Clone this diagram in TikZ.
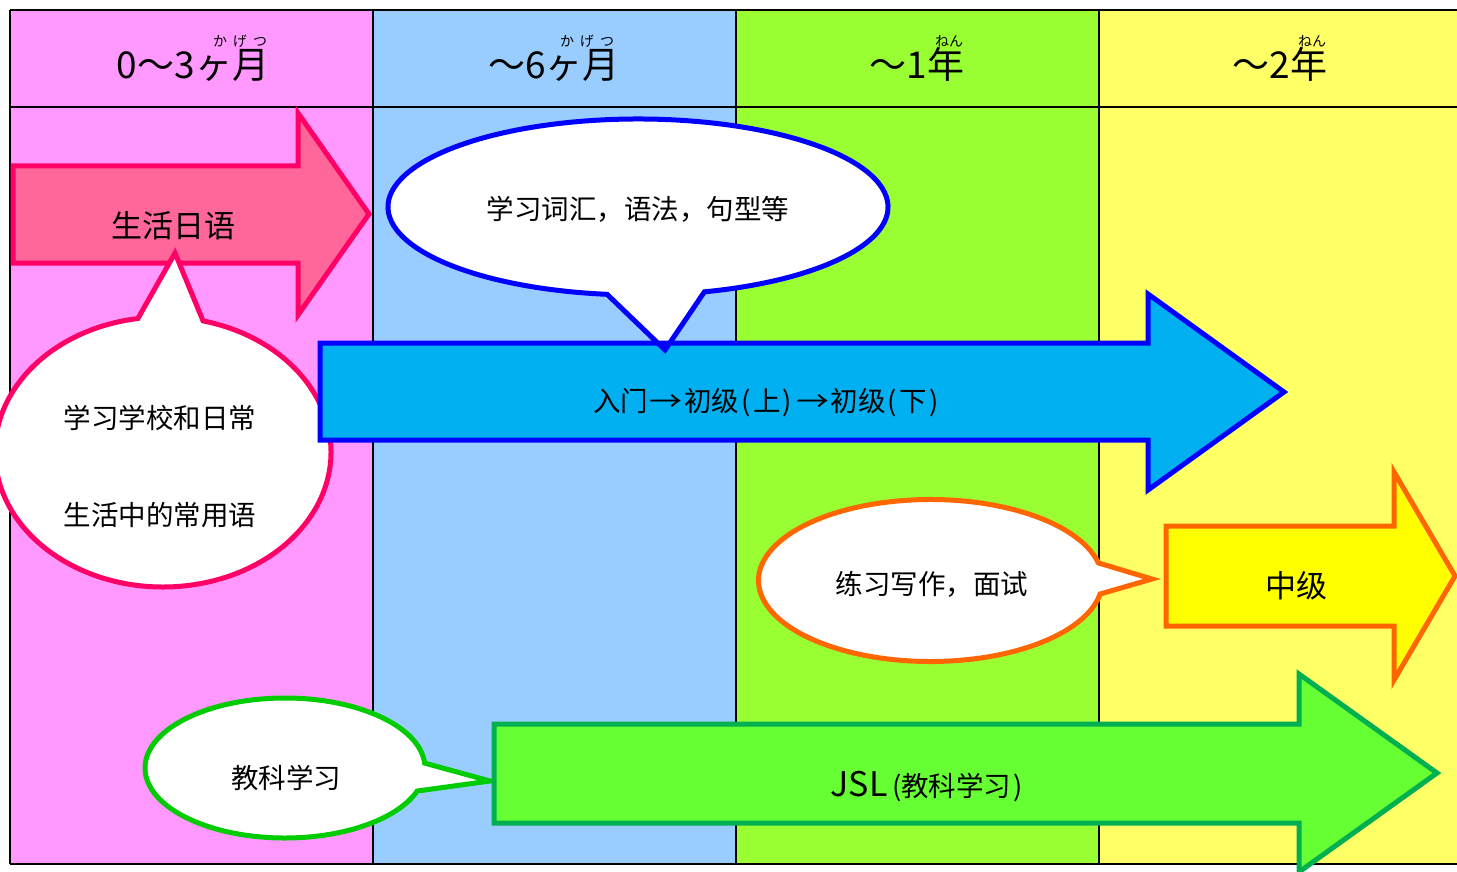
\documentclass[tikz,border=0pt]{standalone}
\usepackage{fontspec}
\newfontfamily\scfont{Noto Sans CJK SC}
\newfontfamily\jpfont{Noto Sans CJK JP}
\definecolor{pinkbg}{HTML}{FF99FF}
\definecolor{bluebg}{HTML}{99CCFF}
\definecolor{greenbg}{HTML}{99FF33}
\definecolor{yellowbg}{HTML}{FFFF66}
\definecolor{pinkfill}{HTML}{FF6699}
\definecolor{pinkline}{HTML}{FF0066}
\definecolor{bluefill}{HTML}{00B0F0}
\definecolor{blueline}{HTML}{0000FF}
\definecolor{orangeline}{HTML}{FF6600}
\definecolor{yellowfill}{HTML}{FFFF00}
\definecolor{greencall}{HTML}{00CC00}
\definecolor{greenfill}{HTML}{66FF33}
\definecolor{greenline}{HTML}{00B050}
\newcommand{\wa}{\makebox[36pt]{\scalebox{1.2}[1]{→}}}
\newcommand{\lp}{\makebox[14pt]{(}}
\newcommand{\rp}{\makebox[14pt]{)}}
\begin{document}
\begin{tikzpicture}[x=1pt,y=1pt,
  gridline/.style={line width=2pt, black},
  bigarrow/.style={line width=5pt, line join=miter},
  callout/.style={line width=5pt, fill=white, line join=miter},
  lbl/.style={inner sep=0pt, font=\scfont\fontsize{27.5}{30}\selectfont},
  biglbl/.style={inner sep=0pt, font=\scfont\fontsize{31}{34}\selectfont},
  head/.style={inner sep=0pt, anchor=base, font=\jpfont\fontsize{37}{40}\selectfont},
  ruby/.style={inner sep=0pt, anchor=base, font=\jpfont\fontsize{14}{15}\selectfont}]
\useasboundingbox (0,0) rectangle (1457,-872);
% column backgrounds
\fill[pinkbg] (10,-10) rectangle (373,-864);
\fill[bluebg] (373,-10) rectangle (736,-864);
\fill[greenbg] (736,-10) rectangle (1099,-864);
\fill[yellowbg] (1099,-10) rectangle (1470,-864);
% grid
\draw[gridline] (10,-10) -- (1470,-10);
\draw[gridline] (10,-107) -- (1470,-107);
\draw[gridline] (10,-864) -- (1470,-864);
\draw[gridline] (10,-10) -- (10,-864);
\draw[gridline] (373,-10) -- (373,-864);
\draw[gridline] (736,-10) -- (736,-864);
\draw[gridline] (1099,-10) -- (1099,-864);
% headers
\node[head] (h1) at (193,-79) {0～3ヶ月};
\node[ruby] (r1) at (240,-47) {か\hspace{6pt}げ\hspace{6pt}つ};
\node[head] (h2) at (554,-79) {～6ヶ月};
\node[ruby] (r2) at (587,-47) {か\hspace{6pt}げ\hspace{6pt}つ};
\node[head] (h3) at (917,-79) {～1年};
\node[ruby] (r3) at (949,-47) {ねん};
\node[head] (h4) at (1280,-79) {～2年};
\node[ruby] (r4) at (1312,-47) {ねん};
% pink arrow
\draw[bigarrow, draw=pinkline, fill=pinkfill] (13,-166) -- (298,-166) -- (298,-113) -- (369,-214) -- (298,-315) -- (298,-263) -- (13,-263) -- cycle;
\node[biglbl] (t1) at (173,-226) {生活日语};
% pink callout
\coordinate (pc) at (163,-452);
\draw[callout, draw=pinkline] (pc) ++(98.6:168pt and 135pt) arc[start angle=98.6, end angle=436.2, x radius=168pt, y radius=135pt] -- (175,-253) -- cycle;
\node[lbl] (t2) at (160,-418) {学习学校和日常};
\node[lbl] (t3) at (160,-515) {生活中的常用语};
% blue callout
\coordinate (bc) at (638,-207);
\fill[white] (bc) ++(285.4:250pt and 88pt) arc[start angle=285.4, end angle=622.9, x radius=250pt, y radius=88pt] -- (665,-350) -- cycle;
% blue arrow
\draw[bigarrow, draw=blueline, fill=bluefill] (320,-343) -- (1148,-343) -- (1148,-294) -- (1284,-392) -- (1148,-490) -- (1148,-440) -- (320,-440) -- cycle;
\draw[callout, fill=none, draw=blueline] (bc) ++(285.4:250pt and 88pt) arc[start angle=285.4, end angle=622.9, x radius=250pt, y radius=88pt] -- (665,-350) -- cycle;
\node[lbl] (t4) at (638,-209) {学习词汇，语法，句型等};
\node[lbl] (t5) at (767,-403) {入门\wa 初级\lp 上\rp\wa 初级\lp 下\rp};
% orange callout
\coordinate (oc) at (930.5,-580.5);
\draw[callout, draw=orangeline] (oc) ++(12.5:172pt and 81pt) arc[start angle=12.5, end angle=350.4, x radius=172pt, y radius=81pt] -- (1152,-579) -- cycle;
\node[lbl] (t6) at (932,-584) {练习写作，面试};
% yellow arrow
\draw[bigarrow, draw=orangeline, fill=yellowfill] (1166,-526) -- (1394,-526) -- (1394,-472) -- (1455,-576) -- (1394,-680) -- (1394,-626) -- (1166,-626) -- cycle;
\node[biglbl] (t7) at (1296,-586) {中级};
% green callout
\coordinate (gc) at (285,-768);
\draw[callout, draw=greencall] (gc) ++(4:140pt and 70pt) arc[start angle=4, end angle=340.8, x radius=140pt, y radius=70pt] -- (490,-781) -- cycle;
\node[lbl] (t8) at (286,-778) {教科学习};
% green arrow
\draw[bigarrow, draw=greenline, fill=greenfill] (494,-724) -- (1299,-724) -- (1299,-674) -- (1437,-773) -- (1299,-872) -- (1299,-823) -- (494,-823) -- cycle;
\node[lbl] (t9) at (928,-787) {{\fontsize{34}{36}\selectfont JSL}\makebox[14pt][r]{(}教科学习\rp};
\end{tikzpicture}
\end{document}
